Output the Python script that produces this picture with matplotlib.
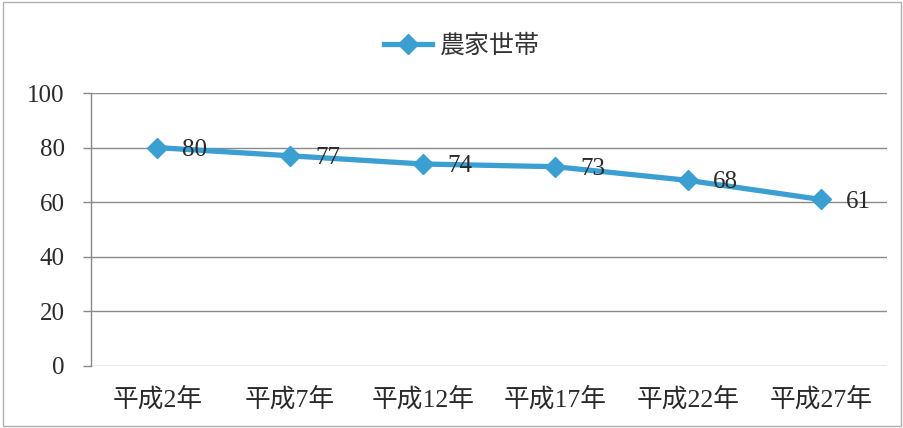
import matplotlib
matplotlib.use("Agg")
import matplotlib.pyplot as plt
from matplotlib.patches import Rectangle

categories = ["平成2年", "平成7年", "平成12年", "平成17年", "平成22年", "平成27年"]
values = [80, 77, 74, 73, 68, 61]
series_name = "農家世帯"
yticks = [0, 20, 40, 60, 80, 100]

serif = ["Liberation Serif", "Noto Sans CJK JP"]
sans = ["Noto Sans CJK JP", "DejaVu Sans"]
color = "#3b9fd1"
text_color = "#2a2a2a"

fig = plt.figure(figsize=(9.04, 4.28), dpi=100)
ax = fig.add_axes([91/904, 1 - 366/428, 796/904, (366 - 93)/428])

x = list(range(len(categories)))
ax.plot(x, values, color=color, lw=3.8, marker="D", ms=10, mfc=color, mec=color,
        label=series_name, zorder=3)
for xi, v in zip(x, values):
    ax.annotate(str(v), (xi, v), xytext=(18, -1.5), textcoords="offset points",
                ha="left", va="center", fontsize=18, family=serif, color=text_color, zorder=4)

ax.set_xlim(-0.5, len(categories) - 0.5)
ax.set_ylim(0, 100)
ax.set_yticks(yticks)
ax.set_yticklabels([str(t) for t in yticks], fontsize=18, family=serif, color=text_color)
ax.set_xticks(x)
ax.set_xticklabels(categories, fontsize=18.5, family=serif, color=text_color)
ax.tick_params(axis="x", length=0, pad=15)
ax.tick_params(axis="y", length=6, color="#888888", width=1, pad=13)
ax.grid(axis="y", color="#8a8a8a", lw=1)
ax.set_axisbelow(True)
for s in ["top", "right", "bottom"]:
    ax.spines[s].set_visible(False)
ax.spines["left"].set_color("#888888")
ax.spines["left"].set_linewidth(1)

leg = fig.legend(loc="center", bbox_to_anchor=(462/904, 1 - 46/428), frameon=False,
                 prop={"family": sans, "size": 18}, handlelength=1.9, handletextpad=0.3)
for t in leg.get_texts():
    t.set_color("#333333")

fig.patches.append(Rectangle((0.003, 0.005), 0.994, 0.99, transform=fig.transFigure,
                             fill=False, edgecolor="#b0b0b0", lw=1))
fig.savefig("out.png", dpi=100)
